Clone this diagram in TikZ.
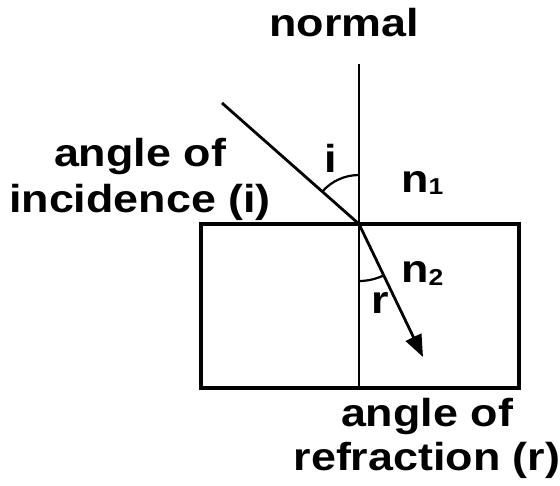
\documentclass[tikz,border=0pt]{standalone}
\usepackage{fontspec}
\setmainfont{Liberation Sans}[FakeStretch=1.15]
\usetikzlibrary{arrows.meta}
\begin{document}
\begin{tikzpicture}[x=1pt,y=-1pt,
  lbl/.style={font=\fontsize{39}{46}\selectfont\bfseries, inner sep=0pt},
  boxline/.style={draw, line width=4.5pt},
  normalline/.style={line width=2.6pt},
  ray/.style={line width=2.8pt},
  anglearc/.style={line width=2.2pt}]
\useasboundingbox[fill=white] (0,0) rectangle (560,485);
\coordinate (O) at (359,224);
\coordinate (S) at (222,103);
\coordinate (T) at (423,357);
\coordinate (NT) at (359,64);
\coordinate (NB) at (359,388);
\node[boxline, minimum width=318pt, minimum height=164pt, inner sep=0pt] (box) at (360,306) {};
\draw[normalline] (NT) -- (NB);
\draw[ray] (S) -- (O);
\draw[ray, -{Triangle[length=22pt,width=17pt]}] (O) -- (T);
\draw[anglearc] (O) ++(270:49) arc[start angle=270, end angle=221.5, radius=49];
\draw[anglearc] (O) ++(90:57) arc[start angle=90, end angle=64.3, radius=57];
\node[lbl, anchor=base] (normal) at (344,36) {normal};
\node[lbl, anchor=base] (ilabel) at (331,172) {i};
\node[lbl, anchor=base] (rlabel) at (380,313) {r};
\node[lbl, anchor=base west] (n1) at (401,192) {n\raisebox{-2pt}{\fontsize{23}{23}\selectfont 1}};
\node[lbl, anchor=base west] (n2) at (401,282) {n\raisebox{-3pt}{\fontsize{23}{23}\selectfont 2}};
\node[lbl, anchor=base, align=center] (inc) at (140,212) {angle of\\incidence (i)};
\node[lbl, anchor=base, align=center, font=\fontsize{39}{44}\selectfont\bfseries] (refr) at (427,470) {angle of\\refraction (r)};
\end{tikzpicture}
\end{document}
